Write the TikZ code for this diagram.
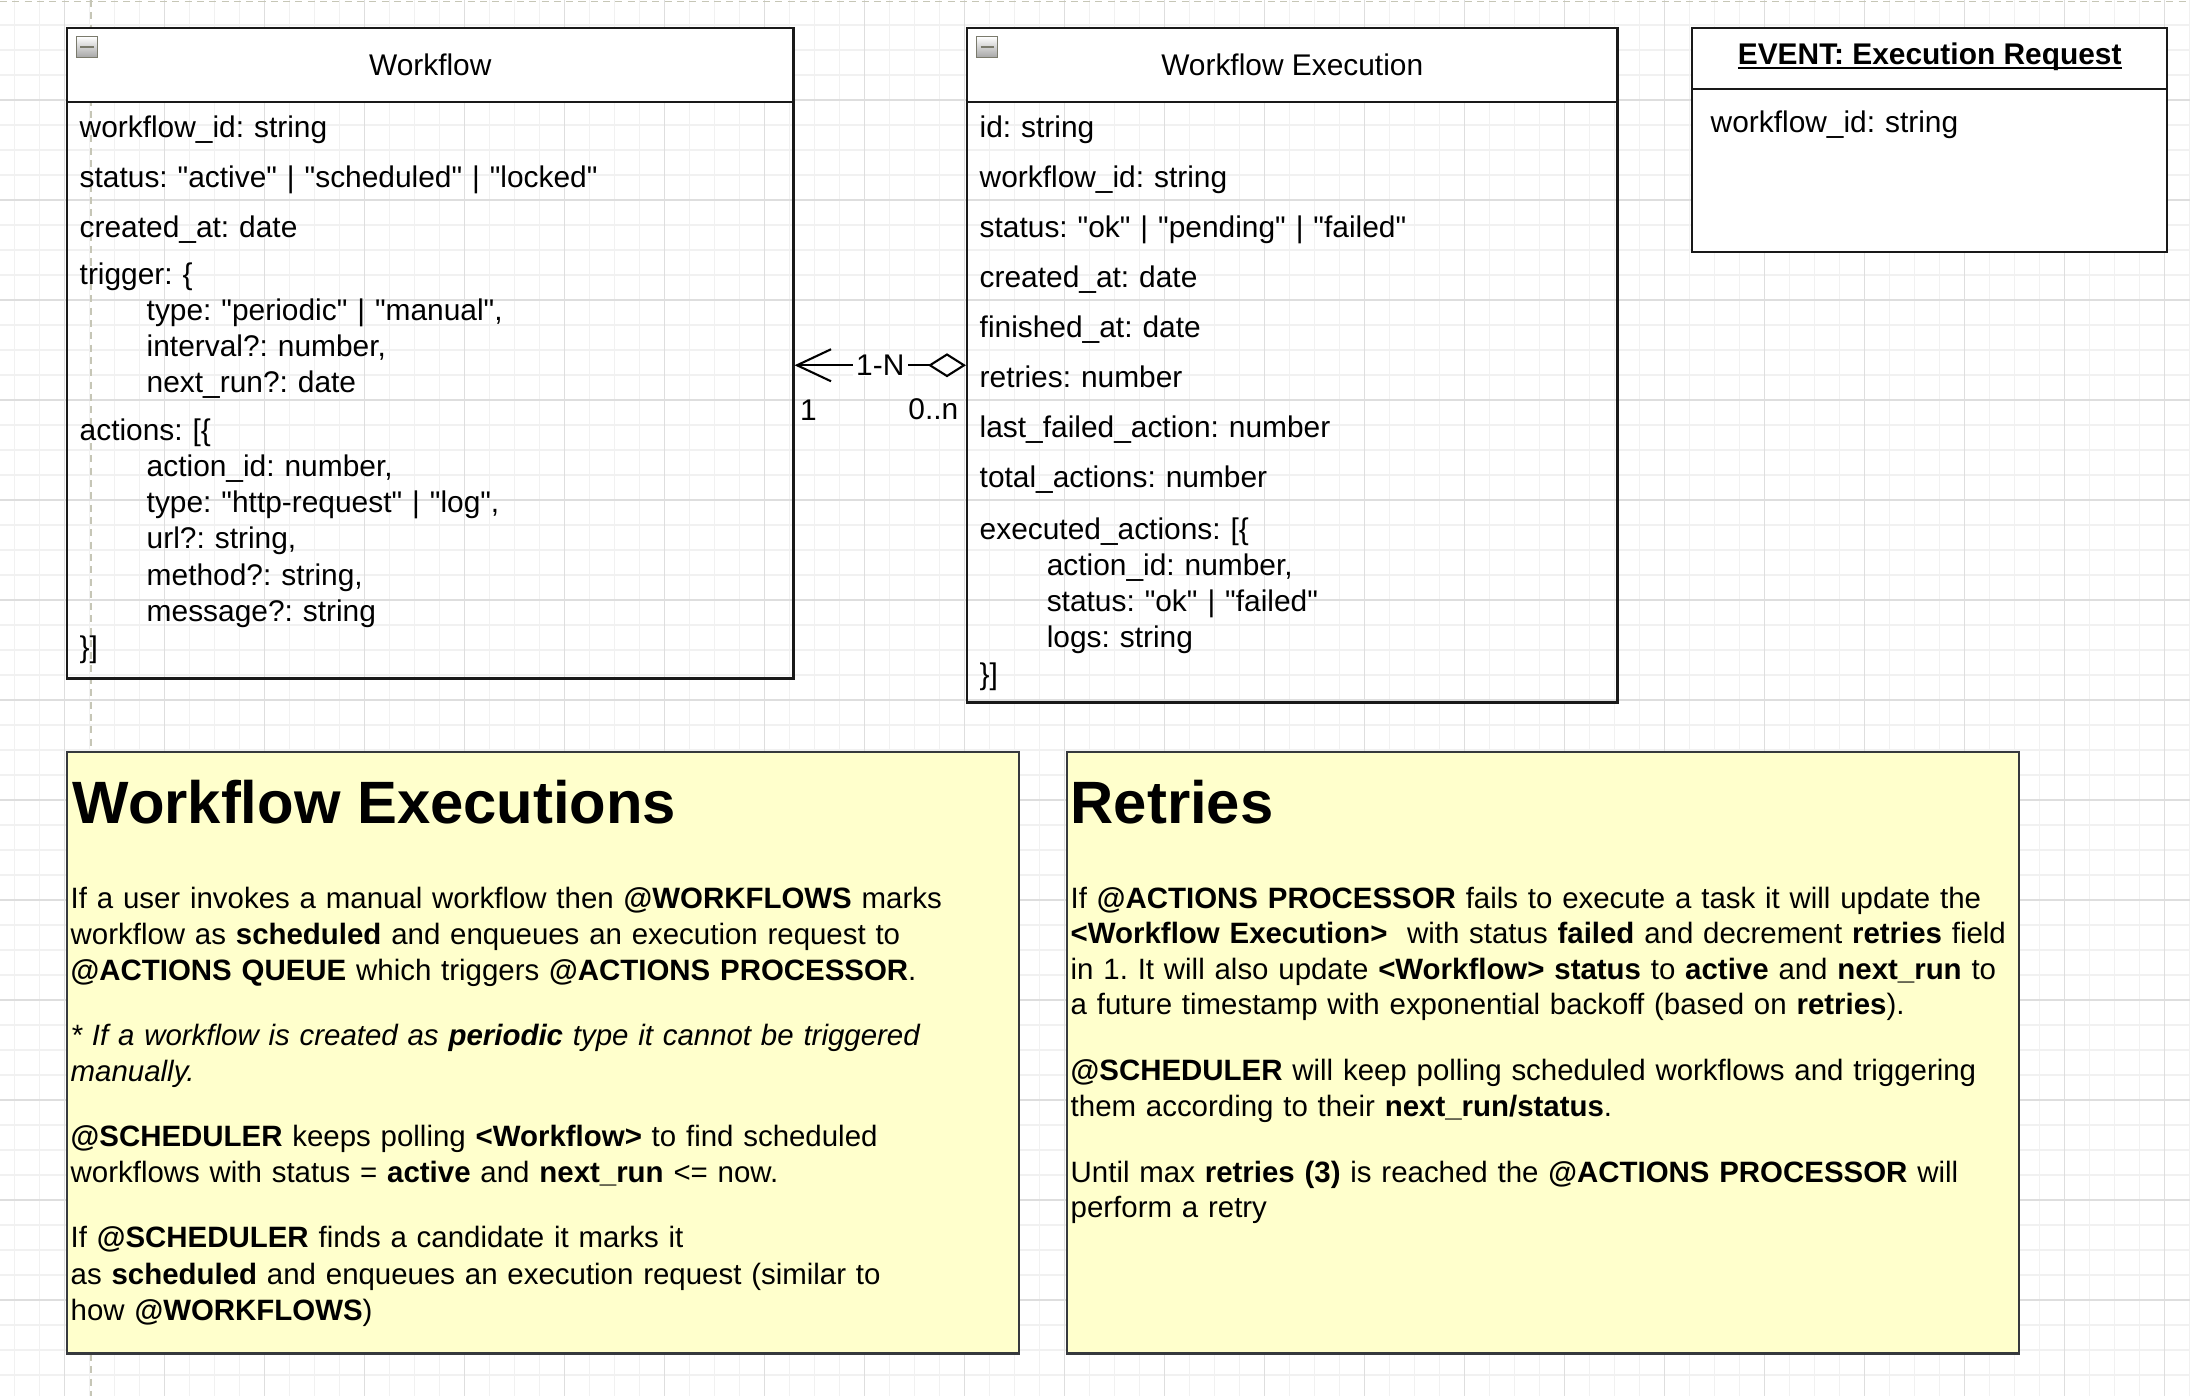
\documentclass[tikz,border=0pt]{standalone}
\usepackage{fontspec}
\setmainfont{Liberation Sans}[Ligatures=TeXOff]
\usepackage{tikz}
\usetikzlibrary{calc}
\usetikzlibrary{arrows.meta}

\definecolor{gridlight}{HTML}{F1F1F1}
\definecolor{griddark}{HTML}{DEDEDE}
\definecolor{pagebreak}{HTML}{C6C6B6}
\definecolor{notefill}{HTML}{FFFFCC}
\definecolor{notedraw}{HTML}{36393D}
\definecolor{btnedge}{HTML}{7A7A6C}

\newcommand{\fieldfont}{\fontsize{8.5pt}{10.33pt}\selectfont\frenchspacing}
\newcommand{\notefont}{\fontsize{8.37pt}{10.33pt}\selectfont\frenchspacing}
\newcommand{\titlefont}{\fontsize{17pt}{20pt}\selectfont\bfseries}
\newcommand{\tabin}{\hspace*{0.67cm}}
\newcommand{\ulinetxt}[1]{\setbox0=\hbox{#1}\rlap{\rule[-1.2pt]{\wd0}{0.55pt}}\box0}

\tikzset{
  classbox/.style={draw=black!90, line width=0.6pt, inner sep=0pt, anchor=north west},
  classhead/.style={classbox, fill=white, font=\fieldfont, text height=0.22cm, text depth=0.02cm},
  collapse/.style={draw=btnedge, line width=0.5pt, top color=white, bottom color=black!35,
    minimum size=0.21cm, inner sep=0pt,
    path picture={\draw[line width=0.55pt] ([xshift=0.04cm]path picture bounding box.west) -- ([xshift=-0.04cm]path picture bounding box.east);}},
  field/.style={anchor=base west, inner sep=0pt, text width=6cm, align=left, font=\fieldfont},
  relation/.style={draw=black, line width=0.6pt,
    {Diamond[open, length=0.38cm, width=0.24cm]}-{Straight Barb[length=0.34cm, width=0.32cm]}},
  cardlabel/.style={inner sep=0pt, font=\fieldfont},
  notebox/.style={draw=notedraw, fill=notefill, line width=0.7pt, inner sep=0pt, anchor=north west},
  notetitle/.style={anchor=base west, inner sep=0pt, font=\titlefont},
  notetext/.style={anchor=base west, inner sep=0pt, text width=10cm, align=left, font=\notefont},
}

\begin{document}
\begin{tikzpicture}[x=0.01cm, y=-0.01cm]
                \useasboundingbox (0,0) rectangle (2190,1396);

                % grid
                \foreach \gx in {14.3,39.3,...,2190} \draw[gridlight, line width=0.3pt] (\gx,0) -- (\gx,1396);
                \foreach \gy in {25,50,...,1396} \draw[gridlight, line width=0.3pt] (0,\gy) -- (2190,\gy);
                \foreach \gx in {64.3,164.3,...,2190} \draw[griddark, line width=0.35pt] (\gx,0) -- (\gx,1396);
                \foreach \gy in {100,200,...,1396} \draw[griddark, line width=0.35pt] (0,\gy) -- (2190,\gy);

                % page breaks
                \draw[pagebreak, dash pattern=on 2pt off 1.5pt, line width=0.5pt] (0,1.5) -- (2190,1.5);
                \draw[pagebreak, dash pattern=on 2pt off 1.5pt, line width=0.5pt] (90.7,0) -- (90.7,1396);

                % Workflow
                \node[classbox, minimum width=7.26cm, minimum height=6.5cm] (wf) at (66,27) {};
                \node[classhead, minimum width=7.26cm, minimum height=0.74cm] (wfhead) at (wf.north west) {Workflow};
                \node[collapse] (wfbtn) at ($(wf.north west)+(21,20)$) {};
                \node[field] (wfid) at (79,137) {workflow\_id: string};
                \node[field] (wfstatus) at (79,187) {status: "active" | "scheduled" | "locked"};
                \node[field] (wfcreated) at (79,237) {created\_at: date};
                \node[field] (wftrigger) at (79,284) {trigger: \{\\
                    \tabin type: "periodic" | "manual",\\
                    \tabin interval?: number,\\
                    \tabin next\_run?: date};
                \node[field] (wfactions) at (79,440) {actions: [\{\\
                    \tabin action\_id: number,\\
                    \tabin type: "http-request" | "log",\\
                    \tabin url?: string,\\
                    \tabin method?: string,\\
                    \tabin message?: string\\
                    \}]};

                % Workflow Execution
                \node[classbox, minimum width=6.5cm, minimum height=6.74cm] (we) at (966,27) {};
                \node[classhead, minimum width=6.5cm, minimum height=0.74cm] (wehead) at (we.north west) {Workflow Execution};
                \node[collapse] (webtn) at ($(we.north west)+(21,20)$) {};
                \node[field] (weid) at (979,137) {id: string};
                \node[field] (wewfid) at (979,187) {workflow\_id: string};
                \node[field] (westatus) at (979,237) {status: "ok" | "pending" | "failed"};
                \node[field] (wecreated) at (979,287) {created\_at: date};
                \node[field] (wefinished) at (979,337) {finished\_at: date};
                \node[field] (weretries) at (979,387) {retries: number};
                \node[field] (welast) at (979,437) {last\_failed\_action: number};
                \node[field] (wetotal) at (979,487) {total\_actions: number};
                \node[field] (weexec) at (979,539) {executed\_actions: [\{\\
                    \tabin action\_id: number,\\
                    \tabin status: "ok" | "failed"\\
                    \tabin logs: string\\
                    \}]};

                % EVENT: Execution Request
                \node[classbox, fill=white, minimum width=4.75cm, minimum height=2.24cm] (ev) at (1691,27) {};
                \node[classhead, text height=0.2cm, text depth=0.08cm, minimum width=4.75cm, minimum height=0.61cm] (evhead) at (ev.north west) {\bfseries\ulinetxt{EVENT: Execution Request}};
                \node[field] (evid) at (1710,132) {workflow\_id: string};

                % Workflow Execution to Workflow
                \draw[relation] (we.west) -- node[cardlabel, fill=white, inner xsep=1pt] (relname) {1-N} (we.west -| wf.east);
                \node[cardlabel, anchor=base west] (wfcard) at ($(we.west -| wf.east)+(5,55)$) {1};
                \node[cardlabel, anchor=base east] (wecard) at ($(we.west)+(-7,54)$) {0..n};

                % note: Workflow Executions
                \node[notebox, minimum width=9.51cm, minimum height=6.01cm] (execnote) at (66,751) {};
                \node[notetitle] (exectitle) at (72,823) {Workflow Executions};
                \node[notetext] (exectext) at (70,908) {If a user invokes a manual workflow then \textbf{@WORKFLOWS} marks\\
                    workflow as \textbf{scheduled} and enqueues an execution request to\\
                    \textbf{@ACTIONS QUEUE} which triggers \textbf{@ACTIONS PROCESSOR}.\\[8.1pt]
                    {\itshape * If a workflow is created as \textbf{periodic} type it cannot be triggered\\
                    manually.}\\[8.1pt]
                    \textbf{@SCHEDULER} keeps polling \textbf{<Workflow>} to find scheduled\\
                    workflows with status = \textbf{active} and \textbf{next\_run} <= now.\\[8.1pt]
                    If \textbf{@SCHEDULER} finds a candidate it marks it\\
                    as \textbf{scheduled} and enqueues an execution request (similar to\\
                    how \textbf{@WORKFLOWS})};

                % note: Retries
                \node[notebox, minimum width=9.51cm, minimum height=6.01cm] (retrynote) at (1066,751) {};
                \node[notetitle] (retrytitle) at (1070,823) {Retries};
                \node[notetext, font=\fontsize{8.37pt}{10.1pt}\selectfont\frenchspacing] (retrytext) at (1070,908) {If \textbf{@ACTIONS PROCESSOR} fails to execute a task it will update the\\
                    \textbf{<Workflow Execution>}\ \ with status \textbf{failed} and decrement \textbf{retries} field\\
                    in 1. It will also update \textbf{<Workflow>} \textbf{status} to \textbf{active} and \textbf{next\_run} to\\
                    a future timestamp with exponential backoff (based on \textbf{retries}).\\[8.7pt]
                    \textbf{@SCHEDULER} will keep polling scheduled workflows and triggering\\
                    them according to their \textbf{next\_run/status}.\\[8.7pt]
                    Until max \textbf{retries (3)} is reached the \textbf{@ACTIONS PROCESSOR} will\\
                    perform a retry};
\end{tikzpicture}
\end{document}
